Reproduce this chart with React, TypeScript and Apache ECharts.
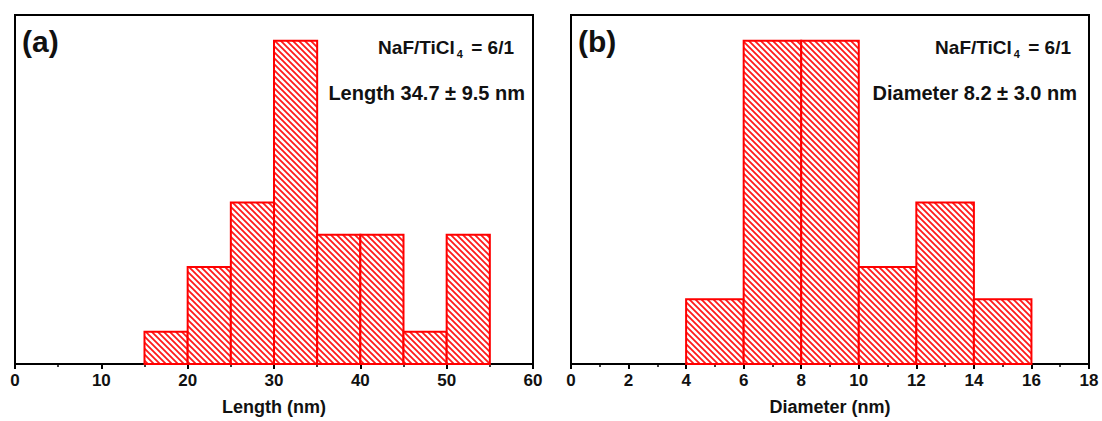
import React, { useEffect, useRef } from "react";
import * as echarts from "echarts";

// Panel (a): length histogram
const lengthBinStarts = [15, 20, 25, 30, 35, 40, 45, 50];
const lengthCounts = [1, 3, 5, 10, 4, 4, 1, 4];
const lengthBinWidth = 5;
const lengthTicks = [0, 10, 20, 30, 40, 50, 60];

// Panel (b): diameter histogram
const diameterBinStarts = [4, 6, 8, 10, 12, 14];
const diameterCounts = [2, 10, 10, 3, 5, 2];
const diameterBinWidth = 2;
const diameterTicks = [0, 2, 4, 6, 8, 10, 12, 14, 16, 18];

const yMax = 10.8;

const FONT = "'Liberation Sans', Arial, sans-serif";

function makeHatch() {
  const s = 6;
  const c = document.createElement("canvas");
  c.width = s;
  c.height = s;
  const ctx = c.getContext("2d")!;
  ctx.fillStyle = "#ffffff";
  ctx.fillRect(0, 0, s, s);
  ctx.strokeStyle = "#ff1a1a";
  ctx.lineWidth = 1.8;
  ctx.beginPath();
  for (const k of [-s, 0, s]) {
    ctx.moveTo(k - 1, -1);
    ctx.lineTo(k + s + 1, s + 1);
  }
  ctx.stroke();
  return c;
}

export default function App() {
  const ref = useRef<HTMLDivElement>(null);
  useEffect(() => {
    if (!ref.current) return;
    const chart = echarts.init(ref.current, undefined, { renderer: "svg" });
    const hatch = makeHatch();
    const pattern = { image: hatch, repeat: "repeat" } as any;

    const toData = (starts: number[], counts: number[], w: number) =>
      starts.map((s, i) => [s, s + w, counts[i]]);

    const renderItem = (params: any, api: any) => {
      const x0 = api.value(0);
      const x1 = api.value(1);
      const y = api.value(2);
      const p0 = api.coord([x0, y]);
      const p1 = api.coord([x1, 0]);
      return {
        type: "rect",
        shape: { x: p0[0], y: p0[1], width: p1[0] - p0[0], height: p1[1] - p0[1] },
        style: { fill: pattern, stroke: "#ff0000", lineWidth: 2 },
      };
    };

    const xAxisCommon = (name: string, max: number, interval: number, minorSplit: number, ticks: number[]) => ({
      type: "value",
      min: 0,
      max,
      interval,
      name,
      nameLocation: "middle",
      nameGap: 34,
      nameTextStyle: { fontFamily: FONT, fontWeight: "bold", fontSize: 18, color: "#111" },
      axisLine: { show: true, onZero: false, lineStyle: { color: "#000", width: 2 } },
      axisTick: { show: true, inside: false, length: 5, lineStyle: { color: "#000", width: 2 } },
      minorTick: { show: true, splitNumber: minorSplit, length: 3, lineStyle: { color: "#000", width: 1.5 } },
      axisLabel: {
        fontFamily: FONT,
        fontWeight: "bold",
        fontSize: 17,
        color: "#111",
        margin: 8,
        formatter: (v: number) => (ticks.includes(v) ? String(v) : ""),
      },
      splitLine: { show: false },
    });

    const yAxisCommon = (gridIndex: number) => ({
      type: "value",
      gridIndex,
      min: 0,
      max: yMax,
      axisLine: { show: false },
      axisTick: { show: false },
      axisLabel: { show: false },
      splitLine: { show: false },
    });

    const textStyle = (t: string, x: number, y: number, size: number, align: string) => ({
      type: "text",
      x,
      y,
      style: {
        text: t,
        fontFamily: FONT,
        fontWeight: "bold",
        fontSize: size,
        fill: "#111",
        align,
        verticalAlign: "middle",
      },
    });

    const ratioText = (xRight: number, y: number) => ({
      type: "text",
      x: xRight,
      y,
      style: {
        text: "{m|NaF/TiCl}{s|4}{m| = 6/1}",
        align: "right",
        verticalAlign: "middle",
        rich: {
          m: { fontFamily: FONT, fontWeight: "bold", fontSize: 19, fill: "#111" },
          s: { fontFamily: FONT, fontWeight: "bold", fontSize: 11, fill: "#111", padding: [14, 3, 0, 2] },
        },
      },
    });

    chart.setOption({
      animation: false,
      grid: [
        { left: 15, right: 569, top: 15, bottom: 55, show: true, borderColor: "#000", borderWidth: 2, backgroundColor: "transparent" },
        { left: 571, right: 13, top: 15, bottom: 55, show: true, borderColor: "#000", borderWidth: 2, backgroundColor: "transparent" },
      ],
      xAxis: [
        { ...xAxisCommon("Length (nm)", 60, 10, 2, lengthTicks), gridIndex: 0 },
        { ...xAxisCommon("Diameter (nm)", 18, 2, 2, diameterTicks), gridIndex: 1 },
      ],
      yAxis: [yAxisCommon(0), yAxisCommon(1)],
      series: [
        {
          type: "custom",
          xAxisIndex: 0,
          yAxisIndex: 0,
          renderItem,
          encode: { x: [0, 1], y: 2 },
          data: toData(lengthBinStarts, lengthCounts, lengthBinWidth),
        },
        {
          type: "custom",
          xAxisIndex: 1,
          yAxisIndex: 1,
          renderItem,
          encode: { x: [0, 1], y: 2 },
          data: toData(diameterBinStarts, diameterCounts, diameterBinWidth),
        },
      ],
      graphic: [
        textStyle("(a)", 22, 41, 30, "left"),
        textStyle("(b)", 578, 41, 30, "left"),
        ratioText(514, 47),
        ratioText(1071, 47),
        textStyle("Length 34.7 ± 9.5 nm", 525, 93, 20, "right"),
        textStyle("Diameter 8.2 ± 3.0 nm", 1077, 93, 20, "right"),
      ],
    } as any);
    return () => chart.dispose();
  }, []);
  return (
    <div
      ref={ref}
      style={{ position: "fixed", left: 0, top: 0, width: 1102, height: 421, background: "#fff" }}
    />
  );
}
